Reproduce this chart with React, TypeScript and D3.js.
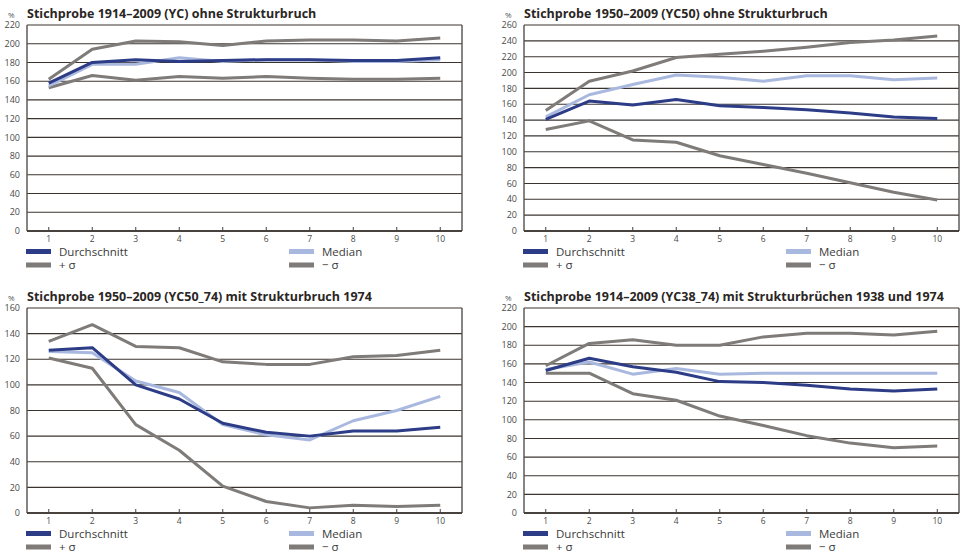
import React from "react";
import * as d3 from "d3";

// x positions (Jahre nach Kauf / Perioden)
const periods = [1, 2, 3, 4, 5, 6, 7, 8, 9, 10];

// Stichprobe 1914–2009 (YC)
const ycMean = [158, 180, 183, 181, 182, 183, 183, 182, 182, 185];
const ycMedian = [155, 178, 178, 185, 181, 183, 183, 181, 181, 183];
const ycPlus = [162, 194, 203, 202, 198, 203, 204, 204, 203, 206];
const ycMinus = [153, 166, 161, 165, 163, 165, 163, 162, 162, 163];

// Stichprobe 1950–2009 (YC50)
const yc50Mean = [141, 164, 159, 166, 158, 156, 153, 149, 144, 142];
const yc50Median = [144, 172, 185, 197, 194, 189, 196, 196, 191, 193];
const yc50Plus = [152, 189, 202, 219, 223, 227, 232, 238, 241, 246];
const yc50Minus = [128, 139, 115, 112, 95, 84, 73, 61, 49, 39];

// Stichprobe 1950–2009 (YC50_74)
const yc5074Mean = [127, 129, 100, 89, 70, 63, 60, 64, 64, 67];
const yc5074Median = [126, 125, 103, 94, 69, 61, 57, 72, 80, 91];
const yc5074Plus = [134, 147, 130, 129, 118, 116, 116, 122, 123, 127];
const yc5074Minus = [121, 113, 69, 49, 21, 9, 4, 6, 5, 6];

// Stichprobe 1914–2009 (YC38_74)
const yc3874Mean = [153, 166, 157, 151, 141, 140, 137, 133, 131, 133];
const yc3874Median = [154, 162, 149, 155, 149, 150, 150, 150, 150, 150];
const yc3874Plus = [158, 182, 186, 180, 180, 189, 193, 193, 191, 195];
const yc3874Minus = [150, 150, 128, 121, 104, 94, 83, 75, 70, 72];

const titles = [
  "Stichprobe 1914–2009 (YC) ohne Strukturbruch",
  "Stichprobe 1950–2009 (YC50) ohne Strukturbruch",
  "Stichprobe 1950–2009 (YC50_74) mit Strukturbruch 1974",
  "Stichprobe 1914–2009 (YC38_74) mit Strukturbrüchen 1938 und 1974",
];
const yMaxes = [220, 260, 160, 220];

const DARK = "#2c3c86";
const LIGHT = "#a9b8de";
const GREY = "#7e7b78";
const GRID = "#3a3430";
const FONT = "'Open Sans', 'Noto Sans', sans-serif";

const panels = [
  { left: 27, top: 25, bottom: 231, series: [ycMean, ycMedian, ycPlus, ycMinus] },
  { left: 524, top: 25, bottom: 231, series: [yc50Mean, yc50Median, yc50Plus, yc50Minus] },
  { left: 27, top: 308, bottom: 513, series: [yc5074Mean, yc5074Median, yc5074Plus, yc5074Minus] },
  { left: 524, top: 308, bottom: 513, series: [yc3874Mean, yc3874Median, yc3874Plus, yc3874Minus] },
];

const PLOT_W = 435;

function Panel({ idx }: { idx: number }) {
  const p = panels[idx];
  const [mean, median, plus, minus] = p.series;
  const yMax = yMaxes[idx];

  const x = d3
    .scalePoint<number>()
    .domain(periods)
    .range([p.left, p.left + PLOT_W])
    .padding(0.5);
  const y = d3.scaleLinear().domain([0, yMax]).range([p.bottom, p.top]);
  const yTicks = d3.range(0, yMax + 1, 20);

  const line = (vals: number[]) =>
    d3
      .line<number>()
      .x((_, i) => x(periods[i]) as number)
      .y((d) => y(d))(vals) || "";

  const right = p.left + PLOT_W;
  const lg1 = p.bottom + 20.5;
  const lg2 = p.bottom + 34;

  return (
    <g fontFamily={FONT}>
      <text x={p.left - 19} y={p.top - 7} fontSize={8} fill="#555">
        %
      </text>
      <text x={p.left} y={p.top - 7} fontSize={12.5} fontWeight={700} fill="#2a2624">
        {titles[idx]}
      </text>

      {yTicks.map((t) => (
        <g key={t}>
          {t > 0 && (
            <line x1={p.left} x2={right} y1={y(t)} y2={y(t)} stroke={GRID} strokeWidth={1.1} />
          )}
          <text
            x={p.left - 7}
            y={y(t)}
            dy="0.35em"
            textAnchor="end"
            fontSize={9}
            fill="#4a4a4a"
          >
            {t}
          </text>
        </g>
      ))}

      <line x1={p.left} x2={p.left} y1={p.top} y2={p.bottom} stroke="#55504c" strokeWidth={1.4} />
      <line x1={right} x2={right} y1={p.top} y2={p.bottom} stroke="#55504c" strokeWidth={1.4} />
      <line x1={p.left} x2={right} y1={p.bottom} y2={p.bottom} stroke="#48423e" strokeWidth={1.8} />

      {periods.map((d) => (
        <g key={d}>
          <line
            x1={x(d)}
            x2={x(d)}
            y1={p.bottom}
            y2={p.bottom - 4}
            stroke="#48423e"
            strokeWidth={1}
          />
          <text x={x(d)} y={p.bottom + 10.5} textAnchor="middle" fontSize={8.5} fill="#4a4a4a">
            {d}
          </text>
        </g>
      ))}

      <path d={line(plus)} fill="none" stroke={GREY} strokeWidth={3} strokeLinejoin="round" />
      <path d={line(minus)} fill="none" stroke={GREY} strokeWidth={3} strokeLinejoin="round" />
      <path d={line(median)} fill="none" stroke={LIGHT} strokeWidth={3} strokeLinejoin="round" />
      <path d={line(mean)} fill="none" stroke={DARK} strokeWidth={3} strokeLinejoin="round" />

      <rect x={p.left - 1} y={lg1 - 2.5} width={25} height={5} fill={DARK} />
      <text x={p.left + 32} y={lg1} dy="0.35em" fontSize={11.5} fill="#3a3a3a">
        Durchschnitt
      </text>
      <rect x={p.left + 262} y={lg1 - 2.5} width={25} height={5} fill={LIGHT} />
      <text x={p.left + 295} y={lg1} dy="0.35em" fontSize={11.5} fill="#3a3a3a">
        Median
      </text>
      <rect x={p.left - 1} y={lg2 - 2.5} width={25} height={5} fill={GREY} />
      <text x={p.left + 32} y={lg2} dy="0.35em" fontSize={11.5} fill="#3a3a3a">
        + σ
      </text>
      <rect x={p.left + 262} y={lg2 - 2.5} width={25} height={5} fill={GREY} />
      <text x={p.left + 295} y={lg2} dy="0.35em" fontSize={11.5} fill="#3a3a3a">
        − σ
      </text>
    </g>
  );
}

export default function App() {
  return (
    <svg
      width={965}
      height={552}
      style={{ position: "absolute", left: 0, top: 0, background: "#fff" }}
    >
      {panels.map((_, i) => (
        <Panel key={i} idx={i} />
      ))}
    </svg>
  );
}
